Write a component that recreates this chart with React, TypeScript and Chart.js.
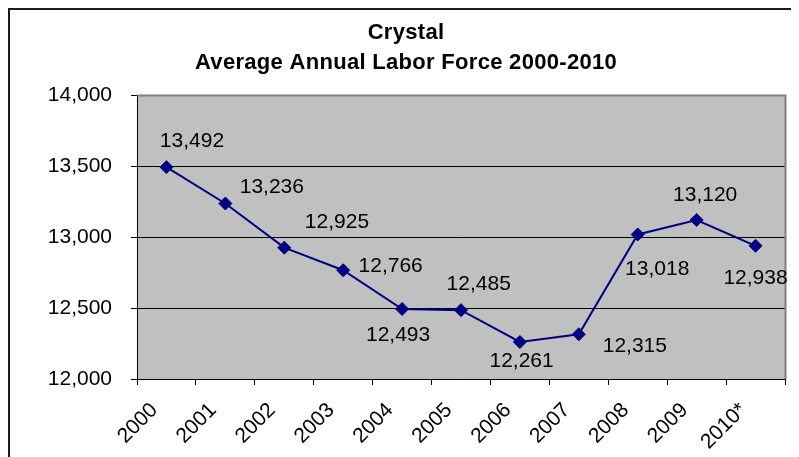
import React, { useEffect, useRef } from 'react';
import { Chart, registerables } from 'chart.js';

Chart.register(...registerables);

// ---- data ----
const TITLE_LINES = ['Crystal', 'Average Annual Labor Force 2000-2010'];
const YEARS = ['2000', '2001', '2002', '2003', '2004', '2005', '2006', '2007', '2008', '2009', '2010*'];
const LABOR_FORCE = [13492, 13236, 12925, 12766, 12493, 12485, 12261, 12315, 13018, 13120, 12938];
const Y_MIN = 12000;
const Y_MAX = 14000;
const Y_STEP = 500;

// ---- layout (label offsets from each point, in px) ----
const LABEL_OFFSETS: [number, number][] = [
  [25.5, -27.5],
  [46.5, -17.5],
  [52.7, -26.7],
  [47.5, -6],
  [-4, 25],
  [17.7, -27.6],
  [1.7, 17.5],
  [56, 10.7],
  [19.5, 33],
  [8.5, -26],
  [0, 31],
];

const FONT = '"Liberation Sans", Arial, Helvetica, sans-serif';
const NAVY = '#000080';
const W = 791;
const H = 449;

const fmt = (v: number) => Number(v).toLocaleString('en-US');

const excelPlugin = {
  id: 'excelStyle',
  beforeDraw(chart: any) {
    const { ctx, chartArea: a } = chart;
    ctx.save();
    ctx.fillStyle = '#ffffff';
    ctx.fillRect(0, 0, chart.width, chart.height);
    ctx.fillStyle = '#C0C0C0';
    ctx.fillRect(a.left, a.top, a.right - a.left, a.bottom - a.top);
    ctx.strokeStyle = '#1c1c1c';
    ctx.lineWidth = 2;
    ctx.strokeRect(1, 1, chart.width + 20, chart.height + 20);
    ctx.fillStyle = '#000';
    ctx.font = `bold 22px ${FONT}`;
    try {
      (ctx as any).letterSpacing = '0.3px';
    } catch (e) {
      /* ignore */
    }
    ctx.textAlign = 'center';
    ctx.textBaseline = 'alphabetic';
    ctx.fillText(TITLE_LINES[0], 398, 30.5);
    ctx.fillText(TITLE_LINES[1], 398, 60.5);
    ctx.restore();
  },
  beforeDatasetsDraw(chart: any) {
    const { ctx, chartArea: a } = chart;
    ctx.save();
    ctx.strokeStyle = '#808080';
    ctx.lineWidth = 2;
    ctx.beginPath();
    ctx.moveTo(a.left, a.top + 0.5);
    ctx.lineTo(a.right + 1.5, a.top + 0.5);
    ctx.moveTo(a.right + 0.5, a.top);
    ctx.lineTo(a.right + 0.5, a.bottom);
    ctx.stroke();
    ctx.strokeStyle = '#000';
    ctx.lineWidth = 1;
    ctx.beginPath();
    ctx.moveTo(a.right + 0.5, a.bottom);
    ctx.lineTo(a.right + 0.5, a.bottom + 6);
    ctx.stroke();
    ctx.restore();
  },
  afterDraw(chart: any) {
    const { ctx } = chart;
    const xs = chart.scales.x;
    const ys = chart.scales.y;
    ctx.save();
    ctx.fillStyle = '#000';
    ctx.font = `21px ${FONT}`;
    // data labels
    ctx.textAlign = 'center';
    ctx.textBaseline = 'alphabetic';
    LABOR_FORCE.forEach((v, i) => {
      const px = xs.getPixelForValue(i);
      const py = ys.getPixelForValue(v);
      const [dx, dy] = LABEL_OFFSETS[i];
      ctx.fillText(fmt(v), px + dx, py + dy + 7.5);
    });
    // rotated category labels
    ctx.textAlign = 'right';
    YEARS.forEach((y, i) => {
      const px = xs.getPixelForValue(i);
      ctx.save();
      ctx.translate(px - 8, 403);
      ctx.rotate(-Math.PI / 4);
      ctx.fillText(y, 0, 0);
      ctx.restore();
    });
    ctx.restore();
  },
};

export default function App() {
  const ref = useRef<HTMLCanvasElement | null>(null);

  useEffect(() => {
    if (!ref.current) return;
    const chart = new Chart(ref.current, {
      type: 'line',
      data: {
        labels: YEARS,
        datasets: [
          {
            label: 'Labor Force',
            data: LABOR_FORCE,
            borderColor: NAVY,
            backgroundColor: NAVY,
            borderWidth: 2,
            pointStyle: 'rectRot',
            pointRadius: 6.5,
            pointBorderWidth: 1,
            pointBackgroundColor: NAVY,
            pointBorderColor: NAVY,
            tension: 0,
            fill: false,
          },
        ],
      },
      options: {
        responsive: false,
        animation: false,
        devicePixelRatio: 1,
        layout: { padding: { top: 87, right: 14, left: 0, bottom: 0 } },
        plugins: {
          legend: { display: false },
          title: { display: false },
          tooltip: { enabled: false },
        },
        scales: {
          x: {
            type: 'category',
            offset: true,
            grid: {
              offset: true,
              drawOnChartArea: false,
              drawTicks: true,
              tickLength: 6,
              color: '#000',
              lineWidth: 1,
            },
            border: { color: '#000', width: 1 },
            ticks: { display: false },
            afterFit: (s: any) => {
              s.height = 78;
            },
          },
          y: {
            min: Y_MIN,
            max: Y_MAX,
            ticks: {
              stepSize: Y_STEP,
              padding: 19,
              color: '#000',
              font: { family: FONT, size: 21 },
              callback: (v: any) => fmt(v),
            },
            grid: { color: '#000', lineWidth: 1, tickLength: 6, drawTicks: true },
            border: { color: '#000', width: 1 },
            afterFit: (s: any) => {
              s.width = 129;
            },
          },
        },
      },
      plugins: [excelPlugin],
    });
    return () => chart.destroy();
  }, []);

  return (
    <div style={{ width: W, height: H }}>
      <canvas ref={ref} width={W} height={H} style={{ display: 'block', width: W, height: H }} />
    </div>
  );
}
